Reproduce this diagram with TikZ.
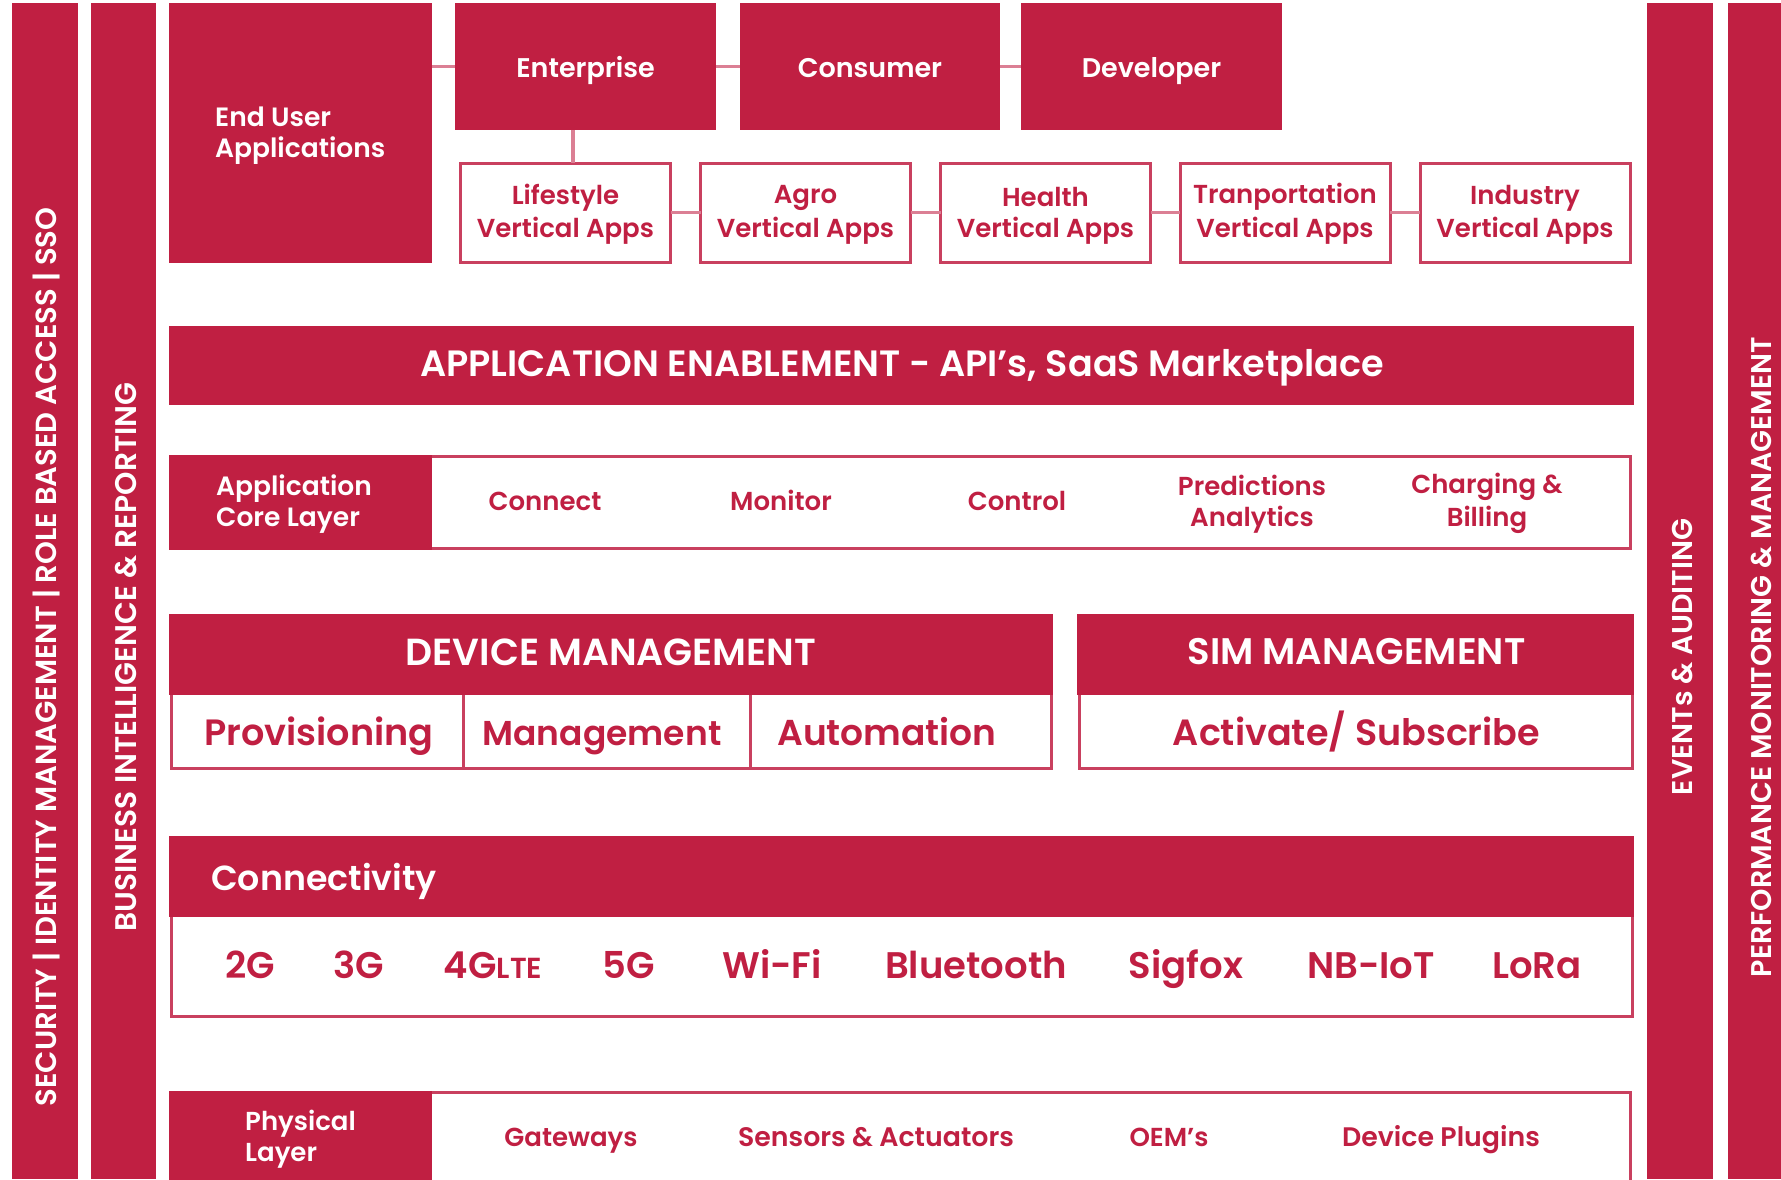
\documentclass[tikz,border=0pt]{standalone}
\usepackage{fontspec}
\setmainfont{Poppins}[BoldFont=Poppins SemiBold]
\definecolor{brand}{HTML}{C01F42}
\definecolor{brandline}{HTML}{C9405F}
\definecolor{brandlink}{HTML}{DB7F94}
\newcommand{\fs}[1]{\fontsize{#1}{#1}\selectfont}
\newcommand{\bx}[7]{% name x1 y1 x2 y2 style text
  \pgfmathsetmacro{\cxx}{(#2+#4)/2}\pgfmathsetmacro{\cyy}{(#3+#5)/2}
  \pgfmathsetmacro{\wdd}{#4-#2}\pgfmathsetmacro{\htt}{#5-#3}
  \node[#6,minimum width=\wdd pt,minimum height=\htt pt] (#1) at (\cxx,\cyy) {#7};}
\tikzset{x=1pt,y=-1pt,
  solid box/.style={fill=brand,draw=none,inner sep=0pt,outer sep=0pt},
  line box/.style={fill=white,draw=brandline,line width=3pt,inner sep=0pt,outer sep=0pt},
  link/.style={draw=brandlink,line width=3.5pt},
  wlab/.style={text=white,font=\bfseries\fs{#1},inner sep=0pt,anchor=center,text height=#1*0.7pt,text depth=0pt},
  wlab/.default=26,
  rlab/.style={text=brand,font=\bfseries\fs{#1},inner sep=0pt,anchor=center,text height=#1*0.7pt,text depth=0pt},
  rlab/.default=26,
  two/.style={align=center,text height=49.4pt,text depth=0pt},
  leftlab/.style={align=left,anchor=west,text height=49.4pt,text depth=0pt},
  vlab/.style={text=white,font=\bfseries\fs{#1},rotate=90,inner sep=0pt,text height=#1*0.7pt,text depth=0pt},
}
\begin{document}
\begin{tikzpicture}
\useasboundingbox (0,0) rectangle (1781,1179);
\clip (0,0) rectangle (1781,1179);
% side bars
\bx{barA}{12}{3}{78}{1179}{solid box}{}
\bx{barB}{91}{3}{156}{1179}{solid box}{}
\bx{barC}{1647}{3}{1713}{1179}{solid box}{}
\bx{barD}{1728}{3}{1781}{1179}{solid box}{}
\node[vlab=29.1] (secT) at (46.5,657) {SECURITY | IDENTITY MANAGEMENT | ROLE BASED ACCESS | SSO};
\node[vlab=29.8] (biT) at (126,657) {BUSINESS INTELLIGENCE \& REPORTING};
\node[vlab=28.6] (evT) at (1682,657) {EVENTs \& AUDITING};
\node[vlab=28.5] (pmT) at (1762,657) {PERFORMANCE MONITORING \& MANAGEMENT};
% top rows
\bx{endu}{169}{3}{432}{263}{solid box}{}
\node[wlab=26.5,leftlab] (enduT) at (215,133) {End User\\[5pt]Applications};
\bx{ent}{455}{3}{716}{130}{solid box}{}
\bx{con}{740}{3}{1000}{130}{solid box}{}
\bx{dev}{1021}{3}{1282}{130}{solid box}{}
\node[wlab=27,yshift=-1.5pt] at (ent.center) {Enterprise};
\node[wlab=27,yshift=-1.5pt] at (con.center) {Consumer};
\node[wlab=27,yshift=-1.5pt] at (dev.center) {Developer};
\bx{life}{460.5}{163}{670.5}{262}{line box}{}
\bx{agro}{700.5}{163}{910.5}{262}{line box}{}
\bx{heal}{940.5}{163}{1150.5}{262}{line box}{}
\bx{tran}{1180}{163}{1390}{262}{line box}{}
\bx{indu}{1420}{163}{1630}{262}{line box}{}
\node[rlab=26,two] at (life.center) {Lifestyle\\[5pt]Vertical Apps};
\node[rlab=26,two] at (agro.center) {Agro\\[5pt]Vertical Apps};
\node[rlab=26,two] at (heal.center) {Health\\[5pt]Vertical Apps};
\node[rlab=26,two] at (tran.center) {Tranportation\\[5pt]Vertical Apps};
\node[rlab=26,two] at (indu.center) {Industry\\[5pt]Vertical Apps};
\coordinate (drop) at (573,146);
\draw[link] (endu.east |- ent.west) -- (ent.west);
\draw[link] (ent.east) -- (con.west);
\draw[link] (con.east) -- (dev.west);
\draw[link] (ent.south -| drop) -- (life.north -| drop);
\draw[link] (life.east) -- (agro.west);
\draw[link] (agro.east) -- (heal.west);
\draw[link] (heal.east) -- (tran.west);
\draw[link] (tran.east) -- (indu.west);
% application enablement
\bx{appen}{169}{326}{1634}{405}{solid box}{}
\node[wlab=36.6] at (902,364) {APPLICATION ENABLEMENT - API’s, SaaS Marketplace};
% core layer
\bx{core}{170.5}{456.5}{1630}{548}{line box}{}
\bx{coreH}{169}{455}{432}{549.5}{solid box}{}
\node[wlab=26.5,leftlab] (coreT) at (216,502) {Application\\[5pt]Core Layer};
\node[rlab=26] (c1) at (545,501) {Connect};
\node[rlab=26] (c2) at (781,501) {Monitor};
\node[rlab=26] (c3) at (1017,501) {Control};
\node[rlab=26,two] (c4) at (1252,502) {Predictions\\[5pt]Analytics};
\node[rlab=26,two] (c5) at (1487,502) {Charging \&\\[5pt]Billing};
% device management
\bx{devB}{171}{680}{1051}{768}{line box}{}
\bx{devP}{171}{680}{463}{768}{line box}{}
\bx{devQ}{463}{680}{750}{768}{line box}{}
\bx{devH}{169}{614}{1053}{695}{solid box}{}
\node[wlab=37.7] at (611,652) {DEVICE MANAGEMENT};
\node[rlab=36.6] at (319,733) {Provisioning};
\node[rlab=34.5] at (602,733) {Management};
\node[rlab=36] at (887,733) {Automation};
% sim
\bx{simB}{1079}{680}{1632}{768}{line box}{}
\bx{simH}{1077}{614}{1634}{695}{solid box}{}
\node[wlab=37] at (1356.5,652) {SIM MANAGEMENT};
\node[rlab=36.5] at (1356.5,733) {Activate/ Subscribe};
% connectivity
\bx{connB}{171}{900}{1632}{1016.5}{line box}{}
\bx{connH}{169}{836}{1634}{917}{solid box}{}
\node[wlab=34.8,anchor=west] at (211,878) {Connectivity};
\node[rlab=37] at (250,966) {2G};
\node[rlab=37] at (359,966) {3G};
\node[rlab=37] at (493,966) {4G{\fs{29}LTE}};
\node[rlab=37] at (629,966) {5G};
\node[rlab=37] at (772,966) {Wi-Fi};
\node[rlab=37] at (976,966) {Bluetooth};
\node[rlab=37] at (1186,966) {Sigfox};
\node[rlab=37] at (1371,966) {NB-IoT};
\node[rlab=37] at (1537,966) {LoRa};
% physical layer
\bx{phys}{170.5}{1092.5}{1630}{1181}{line box}{}
\bx{physH}{169}{1091}{432}{1182}{solid box}{}
\node[wlab=26,leftlab] (physT) at (245,1137) {Physical\\[5pt]Layer};
\node[rlab=26] at (571,1137) {Gateways};
\node[rlab=26.8] at (876,1137) {Sensors \& Actuators};
\node[rlab=26] at (1169,1137) {OEM’s};
\node[rlab=26.8] at (1441,1137) {Device Plugins};
\end{tikzpicture}
\end{document}
